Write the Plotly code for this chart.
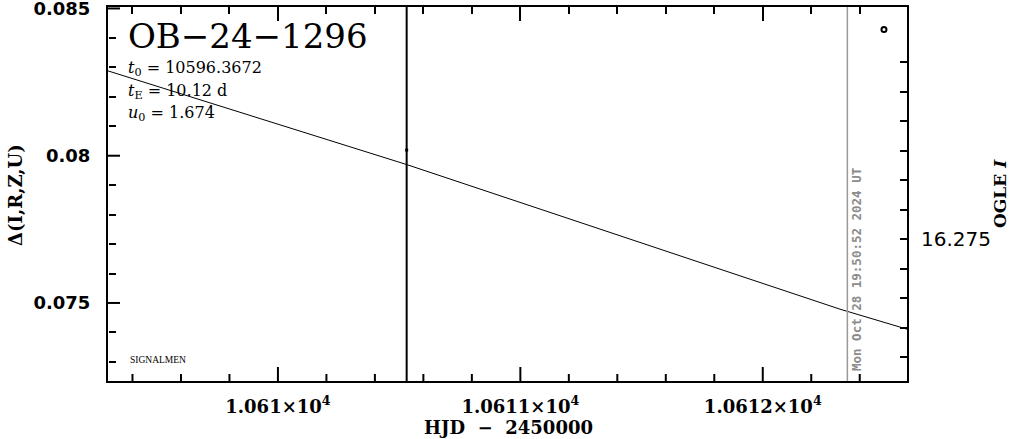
import plotly.graph_objects as go

# ---- data ----
model_hjd = [10609.299, 10610.531, 10612.318, 10612.595]
model_delta = [0.08288, 0.07970, 0.07479, 0.07411]

obs_hjd = [10610.531]
obs_delta = [0.08019]
obs_err = [0.02]

legend_hjd = [10612.500]
legend_delta = [0.08429]

now_hjd = 10612.349

x_range = [10609.299, 10612.595]
y_range = [0.07235, 0.08505]
mag_range = [16.2798, 16.26713]

x_tickvals = [10610, 10611, 10612]
x_ticktext = ["<b>1.061×10<sup>4</sup></b>", "<b>1.0611×10<sup>4</sup></b>",
              "<b>1.0612×10<sup>4</sup></b>"]
x_minor = [10609.4, 10609.6, 10609.8, 10610.2, 10610.4, 10610.6, 10610.8,
           10611.2, 10611.4, 10611.6, 10611.8, 10612.2, 10612.4]
y_tickvals = [0.075, 0.08, 0.085]
y_ticktext = ["<b>0.075</b>", "<b>0.08</b>", "<b>0.085</b>"]
y_minor = [0.073, 0.074, 0.076, 0.077, 0.078, 0.079, 0.081, 0.082, 0.083, 0.084]
mag_tickvals = [16.269, 16.270, 16.271, 16.272, 16.273, 16.274, 16.275,
                16.276, 16.277, 16.278, 16.279]
mag_ticktext = ["", "", "", "", "", "", "16.275", "", "", "", ""]

event_name = "OB−24−1296"
param_lines = ["<i>t</i><sub>0</sub> = 10596.3672",
               "<i>t</i><sub>E</sub> = 10.12 d",
               "<i>u</i><sub>0</sub> = 1.674"]
stamp = "Mon Oct 28 19:50:52 2024 UT"

# ---- layout geometry ----
L, R, T, B = 108, 907, 7, 381
W, H = 1011, 439
PW, PH = R - L, B - T


def px(x):
    return (x - L) / PW


def py(y):
    return (B - y) / PH


fig = go.Figure()

fig.add_trace(go.Scatter(x=model_hjd, y=model_delta, mode="lines",
                         line=dict(color="black", width=1), showlegend=False,
                         hoverinfo="skip"))
fig.add_trace(go.Scatter(x=obs_hjd, y=obs_delta, mode="markers",
                         marker=dict(symbol="square", size=3, color="black"),
                         error_y=dict(type="data", array=obs_err, color="black",
                                      thickness=2, width=0),
                         showlegend=False))
fig.add_trace(go.Scatter(x=legend_hjd, y=legend_delta, mode="markers",
                         marker=dict(symbol="circle-open", size=5, color="black",
                                     line=dict(width=2, color="black")),
                         showlegend=False))
# invisible helper traces so the overlay axes get drawn
helpers = [("x", "y2", 16.275), ("x2", "y", model_delta[0]),
           ("x3", "y", model_delta[0]), ("x", "y3", model_delta[0])]
for xa, ya, yv in helpers:
    fig.add_trace(go.Scatter(x=[model_hjd[0]], y=[yv], xaxis=xa, yaxis=ya,
                             mode="markers", marker=dict(opacity=0),
                             showlegend=False, hoverinfo="skip"))

fig.add_shape(type="line", x0=now_hjd, x1=now_hjd, xref="x", y0=0, y1=1,
              yref="paper", line=dict(color="#999999", width=1.5))

# tick marks along the bottom edge and long ticks on the left edge
tick_line = dict(color="black", width=2)
for v in x_minor:
    fig.add_shape(type="line", xref="x", yref="paper", x0=v, x1=v,
                  y0=0, y1=7 / PH, line=tick_line)
for v in x_tickvals:
    fig.add_shape(type="line", xref="x", yref="paper", x0=v, x1=v,
                  y0=0, y1=14 / PH, line=tick_line)
for v in y_tickvals:
    fig.add_shape(type="line", xref="paper", yref="y", x0=0, x1=12 / PW,
                  y0=v, y1=v, line=tick_line)

ann = []
ann.append(dict(text=event_name, x=px(126), y=py(36), xref="paper", yref="paper",
                xanchor="left", yanchor="middle", showarrow=False,
                font=dict(family="DejaVu Serif", size=34, color="black")))
for i, t in enumerate(param_lines):
    ann.append(dict(text=t, x=px(126), y=py([68, 91, 113][i]), xref="paper",
                    yref="paper", xanchor="left", yanchor="middle",
                    showarrow=False,
                    font=dict(family="DejaVu Serif", size=16, color="black")))
ann.append(dict(text="SIGNALMEN", x=px(128), y=py(360), xref="paper", yref="paper",
                xanchor="left", yanchor="middle", showarrow=False,
                font=dict(family="Liberation Serif", size=9.5, color="black")))
ann.append(dict(text="<b>" + stamp + "</b>", x=px(856), y=py(270), xref="paper",
                yref="paper", xanchor="center", yanchor="middle", textangle=-90,
                showarrow=False,
                font=dict(family="DejaVu Sans Mono", size=12.5, color="#8c8c8c")))
ann.append(dict(text="<b>Δ(I,R,Z,U)</b>", x=px(15), y=py(195), xref="paper",
                yref="paper", xanchor="center", yanchor="middle", textangle=-90,
                showarrow=False,
                font=dict(family="DejaVu Serif", size=18, color="black")))
ann.append(dict(text="<b>HJD  −  2450000</b>", x=px(508), y=py(427), xref="paper",
                yref="paper", xanchor="center", yanchor="middle", showarrow=False,
                font=dict(family="DejaVu Serif", size=18, color="black")))
ann.append(dict(text="<b>OGLE <i>I</i></b>", x=px(1000), y=py(194), xref="paper",
                yref="paper", xanchor="center", yanchor="middle", textangle=-90,
                showarrow=False,
                font=dict(family="DejaVu Serif", size=17, color="black")))

common = dict(showgrid=False, zeroline=False, automargin=False,
              tickcolor="black", tickwidth=2, layer="above traces")
blank = dict(showticklabels=False, showline=False)

fig.update_layout(
    template="none",
    width=W, height=H,
    margin=dict(l=L, r=W - R, t=T, b=H - B, pad=0, autoexpand=False),
    paper_bgcolor="white", plot_bgcolor="rgba(0,0,0,0)",
    showlegend=False,
    annotations=ann,
    xaxis=dict(range=x_range, tickmode="array", tickvals=x_tickvals,
               ticktext=x_ticktext, ticks="",
               showline=True, linewidth=2, linecolor="black", mirror=True,
               ticklabelstandoff=8, ticklabeloverflow="allow",
               tickfont=dict(family="DejaVu Serif", size=18, color="black"),
               **common),
    xaxis2=dict(range=x_range, overlaying="x", anchor="y", side="top",
                ticks="inside", tickmode="array", tickvals=x_minor, ticklen=7,
                **blank, **common),
    xaxis3=dict(range=x_range, overlaying="x", anchor="y", side="top",
                ticks="inside", tickmode="array", tickvals=x_tickvals, ticklen=14,
                **blank, **common),
    yaxis=dict(range=y_range, tickmode="array", tickvals=y_tickvals,
               ticktext=y_ticktext, ticks="",
               showline=True, linewidth=2, linecolor="black",
               mirror=False, ticklabelstandoff=12, ticklabeloverflow="allow",
               tickfont=dict(family="DejaVu Sans", size=18, color="black"),
               **common),
    yaxis3=dict(range=y_range, overlaying="y", anchor="free", position=0,
                side="left", ticks="inside",
                tickmode="array", tickvals=y_minor, ticklen=7, **blank, **common),
    yaxis2=dict(range=mag_range, overlaying="y", anchor="x", side="right",
                tickmode="array", tickvals=mag_tickvals, ticktext=mag_ticktext,
                ticklen=7, ticks="inside", showline=True, linewidth=2,
                linecolor="black",
                ticklabelstandoff=8, ticklabeloverflow="allow",
                tickfont=dict(family="DejaVu Sans", size=20, color="black"),
                **common),
)

fig.write_html("out.html", config={"displayModeBar": False},
               post_script="document.body.style.margin='0';")
